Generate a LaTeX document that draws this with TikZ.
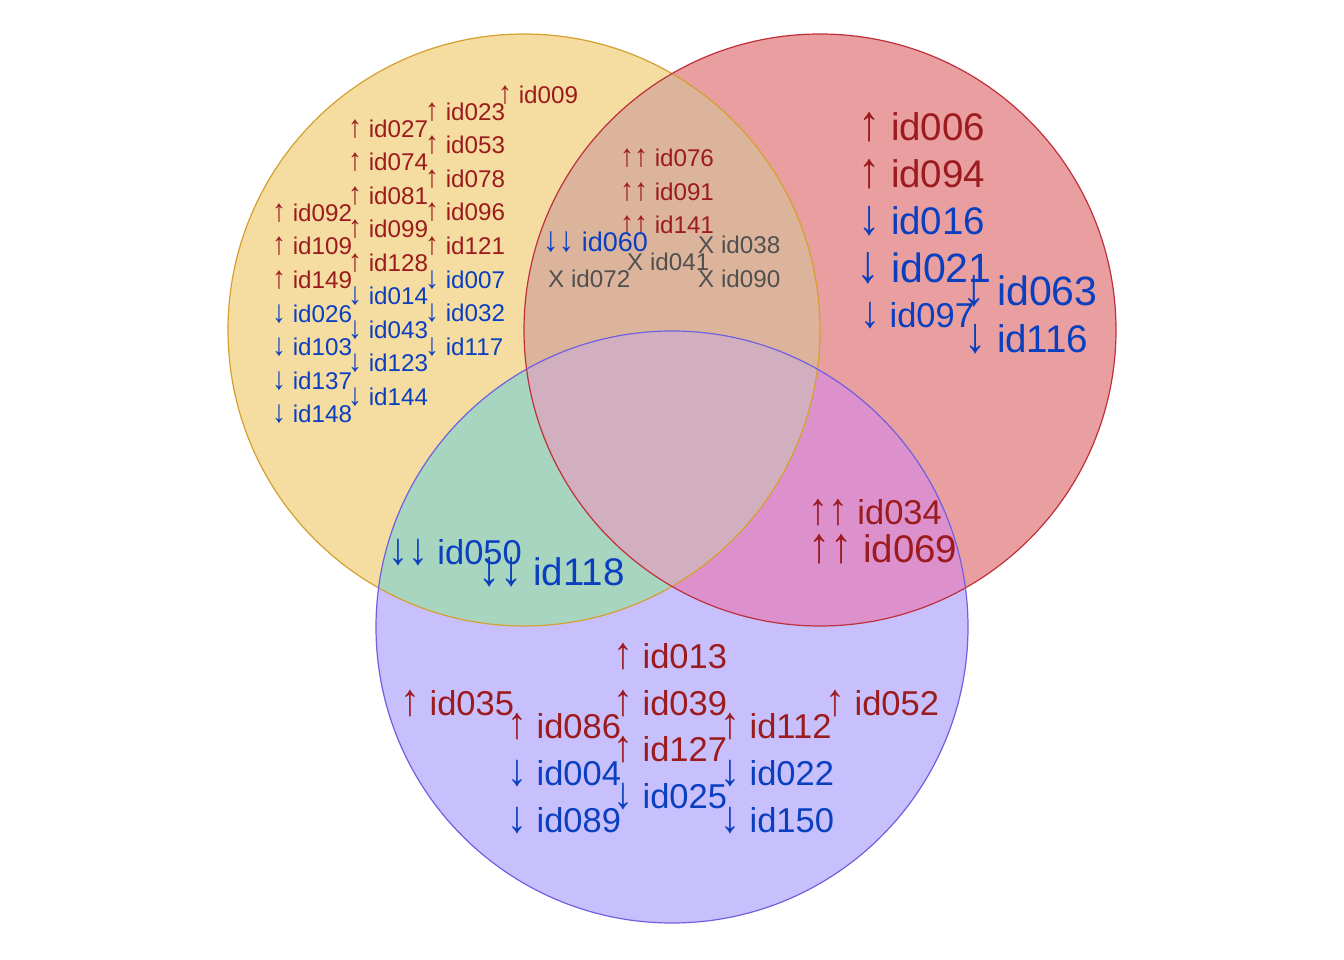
\documentclass[tikz,border=0pt]{standalone}
\usepackage{fontspec}
\setmainfont{Liberation Sans}
\newcommand{\ua}{\scalebox{1.15}[1.3]{↑}}
\newcommand{\da}{\scalebox{1.15}[1.3]{↓}}
\begin{document}
\begin{tikzpicture}[x=1pt,y=-1pt,
  lab/.style={anchor=west,inner sep=0pt},
  s/.style={lab,font=\fontsize{24.2}{24}\selectfont},
  m/.style={lab,font=\fontsize{34.5}{34}\selectfont},
  l/.style={lab,font=\fontsize{38.5}{38}\selectfont},
  up/.style={text=upc}, dn/.style={text=dnc}, xx/.style={text=xc}]
\definecolor{upc}{RGB}{155,27,30}
\definecolor{dnc}{RGB}{10,63,192}
\definecolor{xc}{RGB}{80,80,80}
\definecolor{cY}{RGB}{245,220,160}
\definecolor{cR}{RGB}{233,158,160}
\definecolor{cB}{RGB}{200,192,252}
\definecolor{cYR}{RGB}{220,180,155}
\definecolor{cYB}{RGB}{168,213,192}
\definecolor{cRB}{RGB}{220,145,205}
\definecolor{cYRB}{RGB}{210,175,190}
\useasboundingbox (0,0) rectangle (1344,960);
\def\Y{(524,330) circle[radius=296]}
\def\R{(820,330) circle[radius=296]}
\def\B{(672,627) circle[radius=296]}
\fill[cY] \Y; \fill[cR] \R; \fill[cB] \B;
\begin{scope}\clip \Y; \fill[cYR] \R; \fill[cYB] \B; \end{scope}
\begin{scope}\clip \R; \fill[cRB] \B; \end{scope}
\begin{scope}\clip \Y; \clip \R; \fill[cYRB] \B; \end{scope}
\draw[line width=1.2pt,color={rgb,255:red,212;green,160;blue,48}] \Y;
\draw[line width=1.2pt,color={rgb,255:red,192;green,48;blue,58}] \R;
\draw[line width=1.2pt,color={rgb,255:red,112;green,96;blue,224}] \B;
% yellow only
\node[s,up] (a1) at (272,213) {\ua\ id092};
\node[s,up] (a2) at (272,246) {\ua\ id109};
\node[s,up] (a3) at (272,280) {\ua\ id149};
\node[s,dn] (a4) at (272,314) {\da\ id026};
\node[s,dn] (a5) at (272,347) {\da\ id103};
\node[s,dn] (a6) at (272,381) {\da\ id137};
\node[s,dn] (a7) at (272,414) {\da\ id148};
\node[s,up] (b1) at (348,129) {\ua\ id027};
\node[s,up] (b2) at (348,162) {\ua\ id074};
\node[s,up] (b3) at (348,196) {\ua\ id081};
\node[s,up] (b4) at (348,229) {\ua\ id099};
\node[s,up] (b5) at (348,263) {\ua\ id128};
\node[s,dn] (b6) at (348,296) {\da\ id014};
\node[s,dn] (b7) at (348,330) {\da\ id043};
\node[s,dn] (b8) at (348,363) {\da\ id123};
\node[s,dn] (b9) at (348,397) {\da\ id144};
\node[s,up] (c1) at (425,112) {\ua\ id023};
\node[s,up] (c2) at (425,145) {\ua\ id053};
\node[s,up] (c3) at (425,179) {\ua\ id078};
\node[s,up] (c4) at (425,212) {\ua\ id096};
\node[s,up] (c5) at (425,246) {\ua\ id121};
\node[s,dn] (c6) at (425,280) {\da\ id007};
\node[s,dn] (c7) at (425,313) {\da\ id032};
\node[s,dn] (c8) at (425,347) {\da\ id117};
\node[s,up] (d1) at (498,95) {\ua\ id009};
% yellow-red
\node[s,up] (e1) at (620,158) {\ua\ua\ id076};
\node[s,up] (e2) at (620,192) {\ua\ua\ id091};
\node[s,up] (e3) at (620,225) {\ua\ua\ id141};
\node[lab,font=\fontsize{27}{27}\selectfont,dn] (e4) at (543,242) {\da\da\ id060};
\node[s,xx] (e5) at (548,279) {X id072};
\node[s,xx] (e6) at (627,262) {X id041};
\node[s,xx] (e7) at (698,245) {X id038};
\node[s,xx] (e8) at (698,279) {X id090};
% red only
\node[l,up] (f1) at (858,127) {\ua\ id006};
\node[l,up] (f2) at (858,174) {\ua\ id094};
\node[l,dn] (f3) at (858,221) {\da\ id016};
\node[lab,font=\fontsize{41}{41}\selectfont,dn] (f4) at (856,268) {\da\ id021};
\node[m,dn] (f5) at (860,316) {\da\ id097};
\node[lab,font=\fontsize{41}{41}\selectfont,dn] (f6) at (962,291) {\da\ id063};
\node[l,dn] (f7) at (964,339) {\da\ id116};
% yellow-blue
\node[m,dn] (g1) at (388,553) {\da\da\ id050};
\node[l,dn] (g2) at (478,572) {\da\da\ id118};
% red-blue
\node[m,up] (h1) at (808,513) {\ua\ua\ id034};
\node[l,up] (h2) at (808,549) {\ua\ua\ id069};
% blue only
\node[m,up] (i1) at (400,704) {\ua\ id035};
\node[m,up] (i2) at (507,727) {\ua\ id086};
\node[m,dn] (i3) at (507,774) {\da\ id004};
\node[m,dn] (i4) at (507,821) {\da\ id089};
\node[m,up] (i5) at (613,657) {\ua\ id013};
\node[m,up] (i6) at (613,704) {\ua\ id039};
\node[m,up] (i7) at (613,750) {\ua\ id127};
\node[m,dn] (i8) at (613,797) {\da\ id025};
\node[m,up] (i9) at (720,727) {\ua\ id112};
\node[m,dn] (i10) at (720,774) {\da\ id022};
\node[m,dn] (i11) at (720,821) {\da\ id150};
\node[m,up] (i12) at (825,704) {\ua\ id052};
\end{tikzpicture}
\end{document}
